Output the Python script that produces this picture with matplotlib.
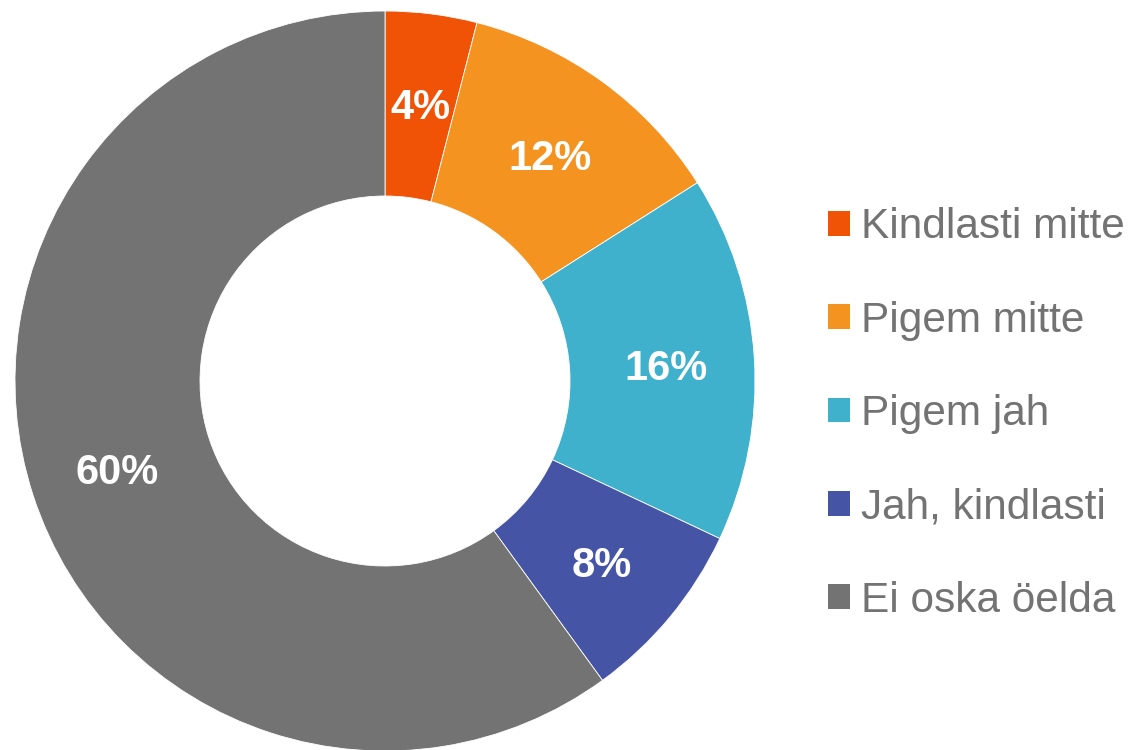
import matplotlib.pyplot as plt
from matplotlib.patches import Patch
import numpy as np

# data
labels = ['Kindlasti mitte', 'Pigem mitte', 'Pigem jah', 'Jah, kindlasti', 'Ei oska öelda']
shares = [4, 12, 16, 8, 60]
colors = ['#F05306', '#F59321', '#40B1CC', '#4654A6', '#737373']

plt.rcParams['font.family'] = ['Liberation Sans', 'DejaVu Sans']

fig = plt.figure(figsize=(11.28, 7.5), dpi=100)
ax = fig.add_axes([15 / 1128, -1 / 750, 740 / 1128, 740 / 750])

wedges, texts = ax.pie(shares, colors=colors, startangle=90, counterclock=False,
                       radius=1, wedgeprops=dict(width=0.5, edgecolor='white', linewidth=0.6))

# percentage labels in the middle of the ring
for w, v in zip(wedges, shares):
    ang = np.deg2rad((w.theta1 + w.theta2) / 2)
    ax.annotate(f'{v}%', (0.76 * np.cos(ang), 0.76 * np.sin(ang)), xytext=(0, -4),
                textcoords='offset points', ha='center', va='center',
                color='white', fontsize=30, fontweight='bold')

ax.set_xlim(-1, 1)
ax.set_ylim(-1, 1)
ax.set_aspect('equal')
ax.axis('off')

handles = [Patch(facecolor=c, edgecolor='none') for c in colors]
leg = fig.legend(handles, labels, loc='center left', bbox_to_anchor=(828 / 1128, 1 - 414 / 750),
                 frameon=False, fontsize=30.5, borderpad=0, handlelength=0.52, handleheight=0.52,
                 handletextpad=0.25, labelspacing=1.26, borderaxespad=0)
for t in leg.get_texts():
    t.set_color('#737373')

fig.savefig('out.png', dpi=100, facecolor='white')
